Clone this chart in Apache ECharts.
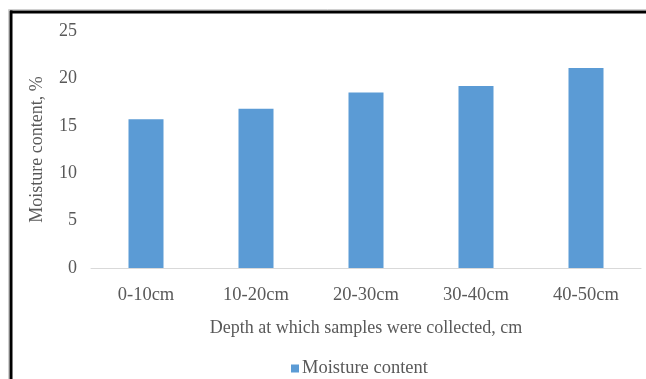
<!DOCTYPE html>
<html>
<head>
<meta charset="utf-8">
<script src="https://cdn.jsdelivr.net/npm/echarts@6/dist/echarts.min.js"></script>
<style>
  html, body { margin: 0; padding: 0; background: #fff; }
  #chart { width: 646px; height: 379px; }
</style>
</head>
<body>
<div id="chart"></div>
<script>
// Sampling depths and measured moisture content (%)
const depths = ['0-10cm', '10-20cm', '20-30cm', '30-40cm', '40-50cm'];
const moisture = [15.7, 16.8, 18.5, 19.2, 21.1];
const seriesName = 'Moisture content';
const xTitle = 'Depth at which samples were collected, cm';
const yTitle = 'Moisture content, %';

const textColor = '#595959';
const serif = '"Liberation Serif", "Times New Roman", serif';

const chart = echarts.init(document.getElementById('chart'), null, { renderer: 'canvas' });

chart.setOption({
  animation: false,
  backgroundColor: '#ffffff',
  textStyle: { fontFamily: serif, color: textColor },
  grid: { left: 91, right: 5, top: 31, bottom: 111, containLabel: false },
  legend: {
    bottom: -4,
    left: 286,
    itemWidth: 8,
    itemHeight: 8,
    itemGap: 10,
    icon: 'rect',
    textStyle: { fontFamily: serif, fontSize: 18.5, color: textColor, padding: [0, 0, 0, -2] },
    data: [seriesName]
  },
  xAxis: {
    type: 'category',
    data: depths,
    name: xTitle,
    nameLocation: 'middle',
    nameGap: 51,
    nameTextStyle: { fontFamily: serif, fontSize: 18, color: textColor },
    axisLine: { show: true, lineStyle: { color: '#d9d9d9', width: 1 } },
    axisTick: { show: false },
    axisLabel: { fontFamily: serif, fontSize: 18.5, color: textColor, margin: 18 }
  },
  yAxis: {
    type: 'value',
    min: 0,
    max: 25,
    interval: 5,
    name: yTitle,
    nameLocation: 'middle',
    nameGap: 45,
    nameRotate: 90,
    nameTextStyle: { fontFamily: serif, fontSize: 18, color: textColor },
    axisLine: { show: false },
    axisTick: { show: false },
    splitLine: { show: false },
    axisLabel: { fontFamily: serif, fontSize: 18, color: textColor, margin: 14 }
  },
  series: [{
    name: seriesName,
    type: 'bar',
    data: moisture,
    barWidth: 35,
    itemStyle: { color: '#5b9bd5' }
  }],
  graphic: [
    // faint outer frame
    { type: 'line', silent: true, shape: { x1: 8.5, y1: 9.5, x2: 646, y2: 9.5 }, style: { stroke: '#d0d0d0', lineWidth: 1 } },
    { type: 'line', silent: true, shape: { x1: 8.5, y1: 9.5, x2: 8.5, y2: 379 }, style: { stroke: '#d0d0d0', lineWidth: 1 } },
    // black frame (top and left edges)
    { type: 'line', silent: true, shape: { x1: 10, y1: 12, x2: 646, y2: 12 }, style: { stroke: '#000000', lineWidth: 3 } },
    { type: 'line', silent: true, shape: { x1: 11, y1: 10.5, x2: 11, y2: 379 }, style: { stroke: '#000000', lineWidth: 3 } }
  ]
});
</script>
</body>
</html>
